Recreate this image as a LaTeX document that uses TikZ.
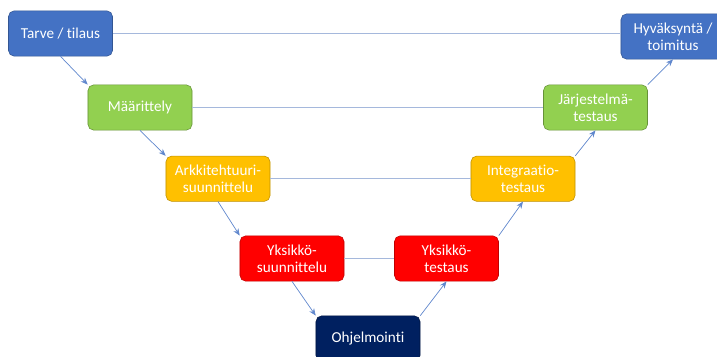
\documentclass[tikz,border=0pt]{standalone}
\usepackage{fontspec}
\setmainfont[Ligatures={NoCommon}]{Carlito}
\usepackage{tikz}
\usetikzlibrary{arrows.meta, positioning, calc}

\definecolor{vblue}{HTML}{4472C4}
\definecolor{vgreen}{HTML}{92D050}
\definecolor{vorange}{HTML}{FFC000}
\definecolor{vred}{HTML}{FF0000}
\definecolor{vnavy}{HTML}{002060}
\definecolor{linkgray}{HTML}{A5B8DC}

\tikzset{
    phase/.style={rounded corners=4pt, minimum width=2.6cm, minimum height=1.13cm,
        text=white, align=center, font=\fontsize{10.8}{12.4}\selectfont, inner sep=1pt},
    flow/.style={-{Stealth[length=5pt, width=4pt]}, vblue!85, line width=0.5pt},
    pair/.style={linkgray, line width=0.7pt},
}

\begin{document}
\begin{tikzpicture}[x=0.025cm, y=-0.025cm]
    \useasboundingbox (0,0) rectangle (717,356);

    \node[phase, fill=vblue, draw=vblue!75!black]     (tarve) at (60.5, 33.5) {Tarve / tilaus};
    \node[phase, fill=vgreen, draw=vgreen!70!black]   (maar)  at (140, 107.5) {Määrittely};
    \node[phase, fill=vorange, draw=vorange!75!black] (arkki) at (218, 178.7) {Arkkitehtuuri-\\suunnittelu};
    \node[phase, fill=vred, draw=vred!75!black]       (yksu)  at (292, 258.5) {Yksikkö-\\suunnittelu};
    \node[phase, fill=vnavy, draw=vnavy!70!black]     (ohj)   at (368, 338.5) {Ohjelmointi};
    \node[phase, fill=vred, draw=vred!75!black]       (ykte)  at (446.5, 258.5) {Yksikkö-\\testaus};
    \node[phase, fill=vorange, draw=vorange!75!black] (integ) at (523, 178.7) {Integraatio-\\testaus};
    \node[phase, fill=vgreen, draw=vgreen!70!black]   (jarj)  at (595.5, 107.5) {Järjestelmä-\\testaus};
    \node[phase, fill=vblue, draw=vblue!75!black]     (hyv)   at (673, 36.5) {Hyväksyntä /\\toimitus};

    % verification pairs
    \draw[pair] (tarve) -- (tarve -| hyv.west);
    \draw[pair] (maar) -- (jarj);
    \draw[pair] (arkki) -- (integ);
    \draw[pair] (yksu) -- (ykte);

    % down the V
    \draw[flow] (tarve.south) -- (maar.north west);
    \draw[flow] (maar.south) -- (arkki.north west);
    \draw[flow] (arkki.south) -- (yksu.north west);
    \draw[flow] (yksu.south) -- (ohj.north west);
    % up the V
    \draw[flow] (ohj.north east) -- (ykte.south);
    \draw[flow] (ykte.north east) -- (integ.south);
    \draw[flow] (integ.north east) -- (jarj.south);
    \draw[flow] (jarj.north east) -- (hyv.south);
\end{tikzpicture}
\end{document}
